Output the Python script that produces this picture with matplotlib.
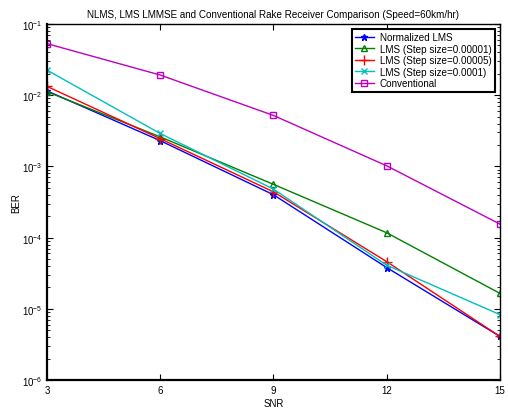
import matplotlib
matplotlib.use("Agg")
import matplotlib.pyplot as plt

plt.rcParams['font.family'] = ['Liberation Sans', 'DejaVu Sans']
plt.rcParams['mathtext.fontset'] = 'custom'
plt.rcParams['mathtext.rm'] = 'Liberation Sans'
plt.rcParams['font.size'] = 7

snr = [3, 6, 9, 12, 15]
ber_nlms = [0.0115, 0.0023, 4.0e-4, 3.8e-5, 4.1e-6]
ber_lms_1e5 = [0.0112, 0.0026, 5.6e-4, 1.17e-4, 1.65e-5]
ber_lms_5e5 = [0.0133, 0.00245, 4.4e-4, 4.6e-5, 4.1e-6]
ber_lms_1e4 = [0.0225, 0.0029, 4.8e-4, 4.1e-5, 8.3e-6]
ber_conv = [0.053, 0.0192, 0.0052, 0.00102, 1.55e-4]

fig = plt.figure(figsize=(5.08, 4.10), dpi=100)
ax = fig.add_axes([0.0925, 0.0707, 0.8915, 0.8683])

ax.semilogy(snr, ber_nlms, color=(0, 0, 1), marker='*', markersize=5, lw=1, label="Normalized LMS")
ax.semilogy(snr, ber_lms_1e5, color=(0, 0.5, 0), marker='^', markerfacecolor='none', markersize=5, lw=1,
            label="LMS (Step size=0.00001)")
ax.semilogy(snr, ber_lms_5e5, color=(1, 0, 0), marker='+', markersize=7, lw=1, label="LMS (Step size=0.00005)")
ax.semilogy(snr, ber_lms_1e4, color=(0, 0.75, 0.75), marker='x', markersize=4, lw=1, label="LMS (Step size=0.0001)")
ax.semilogy(snr, ber_conv, color=(0.75, 0, 0.75), marker='s', markerfacecolor='none', markersize=5, lw=1,
            label="Conventional")

ax.set_xlim(3, 15)
ax.set_ylim(1e-6, 1e-1)
ax.set_xticks(snr)
ax.tick_params(which='both', direction='in', top=True, right=True)
ax.tick_params(which='major', length=4)
ax.tick_params(which='minor', length=2)
for side in ['left', 'bottom']:
    ax.spines[side].set_linewidth(1.6)
for side in ['top', 'right']:
    ax.spines[side].set_linewidth(1.0)

ax.set_xlabel("SNR", labelpad=2)
ax.set_ylabel("BER", labelpad=0)
ax.set_title("NLMS, LMS LMMSE and Conventional Rake Receiver Comparison (Speed=60km/hr)", fontsize=7.1, pad=5)

leg = ax.legend(loc='upper right', fancybox=False, framealpha=1, edgecolor='black', borderpad=0.35,
                labelspacing=0.15, handlelength=1.9, handletextpad=0.6, borderaxespad=0.5, fontsize=7.1)
leg.get_frame().set_linewidth(1.5)

fig.savefig("out.png", dpi=100)
